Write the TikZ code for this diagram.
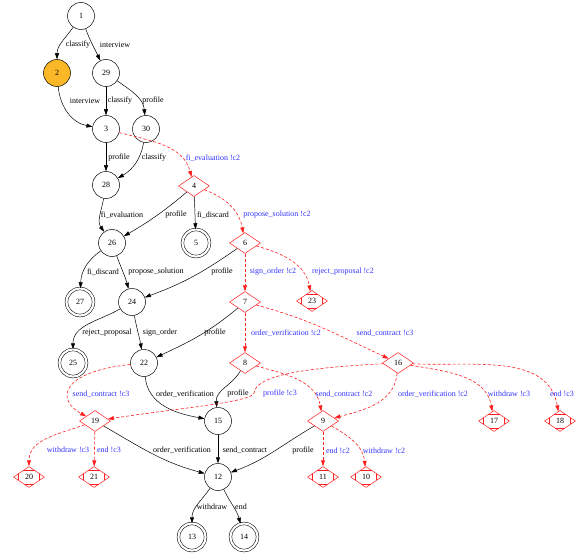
\documentclass[tikz,border=0pt]{standalone}
\usepackage{fontspec}
\setmainfont{Liberation Serif}
\usetikzlibrary{shapes.geometric,arrows.meta}

\definecolor{startorange}{RGB}{250,183,40}
\definecolor{lblblue}{RGB}{50,50,255}
\definecolor{cred}{RGB}{255,30,30}

\begin{document}
\begin{tikzpicture}[x=1pt,y=1pt,
    state/.style={circle, draw, line width=0.5pt, minimum size=27pt, inner sep=0pt, font=\fontsize{8}{9}\selectfont},
    startstate/.style={state, fill=startorange},
    finalstate/.style={state, double, double distance=2.2pt},
    cstate/.style={diamond, draw=cred, line width=0.5pt, minimum width=31pt, minimum height=21pt, inner sep=0pt, font=\fontsize{8}{9}\selectfont},
    cfinal/.style={cstate, path picture={
        \draw[cred, line width=0.5pt]
          ([xshift=5pt]path picture bounding box.north west) -- ([xshift=5pt]path picture bounding box.south west)
          ([xshift=-5pt]path picture bounding box.north east) -- ([xshift=-5pt]path picture bounding box.south east)
          ([yshift=-3.5pt]path picture bounding box.north west) -- ([yshift=-3.5pt]path picture bounding box.north east)
          ([yshift=3.5pt]path picture bounding box.south west) -- ([yshift=3.5pt]path picture bounding box.south east);}},
    trans/.style={-{Triangle[length=6pt,width=4pt]}, line width=0.5pt},
    ctrans/.style={trans, cred, line width=0.6pt, dash pattern=on 3pt off 2pt},
    lbl/.style={font=\fontsize{8}{9}\selectfont, inner sep=0.5pt},
    clbl/.style={lbl, text=lblblue},
  ]
    \useasboundingbox (0,0) rectangle (581,-559);
    % states
    \node[state]      (n1)  at (81,-16)   {1};
    \node[startstate] (n2)  at (57,-73)   {2};
    \node[state]      (n29) at (106,-73)  {29};
    \node[state]      (n3)  at (106,-129) {3};
    \node[state]      (n30) at (146,-129) {30};
    \node[state]      (n28) at (106,-185) {28};
    \node[cstate]     (n4)  at (194,-186) {4};
    \node[state]      (n26) at (112,-243) {26};
    \node[finalstate] (n5)  at (196,-243) {5};
    \node[cstate]     (n6)  at (245,-243) {6};
    \node[finalstate] (n27) at (80,-302)  {27};
    \node[state]      (n24) at (132,-302) {24};
    \node[cstate]     (n7)  at (245,-302) {7};
    \node[cfinal]     (n23) at (312,-301) {23};
    \node[finalstate] (n25) at (73,-363)  {25};
    \node[state]      (n22) at (144,-363) {22};
    \node[cstate]     (n8)  at (245,-363) {8};
    \node[cstate]     (n16) at (398,-363) {16};
    \node[cstate]     (n19) at (95,-421)  {19};
    \node[state]      (n15) at (218,-421) {15};
    \node[cstate]     (n9)  at (323,-421) {9};
    \node[cfinal]     (n17) at (494,-421) {17};
    \node[cfinal]     (n18) at (560,-421) {18};
    \node[cfinal]     (n20) at (29,-477)  {20};
    \node[cfinal]     (n21) at (94,-477)  {21};
    \node[state]      (n12) at (218,-477) {12};
    \node[cfinal]     (n11) at (323,-477) {11};
    \node[cfinal]     (n10) at (366,-477) {10};
    \node[finalstate] (n13) at (192,-537) {13};
    \node[finalstate] (n14) at (244,-537) {14};
    % transitions
    \draw[trans]  (n1) to[out=-125, in=90] (n2);
    \draw[trans]  (n1) to[out=-70, in=115] (n29);
    \draw[trans]  (n2) to[out=-85, in=170] (n3);
    \draw[trans]  (n29) -- (n3);
    \draw[trans]  (n29) to[out=-35, in=95] (n30);
    \draw[trans]  (n3) -- (n28);
    \draw[trans]  (n30) to[out=-100, in=30] (n28);
    \draw[ctrans] (n3) to[out=-15, in=105] (n4);
    \draw[trans]  (n28) to[out=-100, in=125] (n26);
    \draw[trans]  (n4) to[out=-140, in=30] (n26);
    \draw[trans]  (n4) -- (n5);
    \draw[ctrans] (n4) to[out=-20, in=100] (n6);
    \draw[trans]  (n26) to[out=-145, in=88] (n27);
    \draw[trans]  (n26) to[out=-70, in=105] (n24);
    \draw[trans]  (n6) to[out=-145, in=20] (n24);
    \draw[ctrans] (n6) -- (n7);
    \draw[ctrans] (n6) to[out=-15, in=100] (n23);
    \draw[trans]  (n24) to[out=-150, in=90] (n25);
    \draw[trans]  (n24) to[out=-80, in=100] (n22);
    \draw[trans]  (n7) to[out=-140, in=25] (n22);
    \draw[ctrans] (n7) -- (n8);
    \draw[ctrans] (n7) to[out=-15, in=155] (n16);
    \draw[ctrans] (n22) .. controls (60,-372) and (56,-400) .. (n19);
    \draw[trans]  (n22) to[out=-85, in=170] (n15);
    \draw[trans]  (n8) to[out=-120, in=95] (n15);
    \draw[ctrans] (n16) .. controls (300,-368) and (256,-376) .. (254,-393)
                  .. controls (252,-402) and (180,-408) .. (n19);
    \draw[ctrans] (n8) to[out=-15, in=100] (n9);
    \draw[ctrans] (n16) to[out=-95, in=15] (n9);
    \draw[ctrans] (n16) to[out=-10, in=100] (n17);
    \draw[ctrans] (n16) to[out=-3, in=100] (n18);
    \draw[ctrans] (n19) to[out=-160, in=90] (n20);
    \draw[ctrans] (n19) -- (n21);
    \draw[trans]  (n19) to[out=-30, in=165] (n12);
    \draw[trans]  (n15) -- (n12);
    \draw[trans]  (n9) to[out=-150, in=20] (n12);
    \draw[ctrans] (n9) -- (n11);
    \draw[ctrans] (n9) to[out=-30, in=95] (n10);
    \draw[trans]  (n12) to[out=-125, in=90] (n13);
    \draw[trans]  (n12) to[out=-65, in=105] (n14);
    % labels
    \node[lbl]  (l1-2)   at (78,-45)    {classify};
    \node[lbl]  (l1-29)  at (115,-45)   {interview};
    \node[lbl]  (l2-3)   at (85,-101)   {interview};
    \node[lbl]  (l29-3)  at (120,-101)  {classify};
    \node[lbl]  (l29-30) at (153,-101)  {profile};
    \node[lbl]  (l3-28)  at (119,-158)  {profile};
    \node[lbl]  (l30-28) at (154,-158)  {classify};
    \node[clbl] (l3-4)   at (213,-158)  {fi\_evaluation !c2};
    \node[lbl]  (l28-26) at (122,-215)  {fi\_evaluation};
    \node[lbl]  (l4-26)  at (176,-215)  {profile};
    \node[lbl]  (l4-5)   at (213,-215)  {fi\_discard};
    \node[clbl] (l4-6)   at (277,-215)  {propose\_solution !c2};
    \node[lbl]  (l26-27) at (103,-272)  {fi\_discard};
    \node[lbl]  (l26-24) at (156,-272)  {propose\_solution};
    \node[lbl]  (l6-24)  at (222,-272)  {profile};
    \node[clbl] (l6-7)   at (273,-272)  {sign\_order !c2};
    \node[clbl] (l6-23)  at (343,-272)  {reject\_proposal !c2};
    \node[lbl]  (l24-25) at (107,-333)  {reject\_proposal};
    \node[lbl]  (l24-22) at (160,-333)  {sign\_order};
    \node[lbl]  (l7-22)  at (215,-333)  {profile};
    \node[clbl] (l7-8)   at (286,-333)  {order\_verification !c2};
    \node[clbl] (l7-16)  at (385,-333)  {send\_contract !c3};
    \node[clbl] (l22-19) at (101,-394)  {send\_contract !c3};
    \node[lbl]  (l22-15) at (185,-394)  {order\_verification};
    \node[lbl]  (l8-15)  at (238,-394)  {profile};
    \node[clbl] (l16-19) at (280,-394)  {profile !c3};
    \node[clbl] (l8-9)   at (344,-394)  {send\_contract !c2};
    \node[clbl] (l16-9)  at (433,-394)  {order\_verification !c2};
    \node[clbl] (l16-17) at (509,-394)  {withdraw !c3};
    \node[clbl] (l16-18) at (562,-394)  {end !c3};
    \node[clbl] (l19-20) at (68,-450)   {withdraw !c3};
    \node[clbl] (l19-21) at (109,-450)  {end !c3};
    \node[lbl]  (l19-12) at (182,-450)  {order\_verification};
    \node[lbl]  (l15-12) at (245,-450)  {send\_contract};
    \node[lbl]  (l9-12)  at (303,-451)  {profile};
    \node[clbl] (l9-11)  at (338,-451)  {end !c2};
    \node[clbl] (l9-10)  at (384,-451)  {withdraw !c2};
    \node[lbl]  (l12-13) at (212,-507)  {withdraw};
    \node[lbl]  (l12-14) at (241,-507)  {end};
\end{tikzpicture}
\end{document}
